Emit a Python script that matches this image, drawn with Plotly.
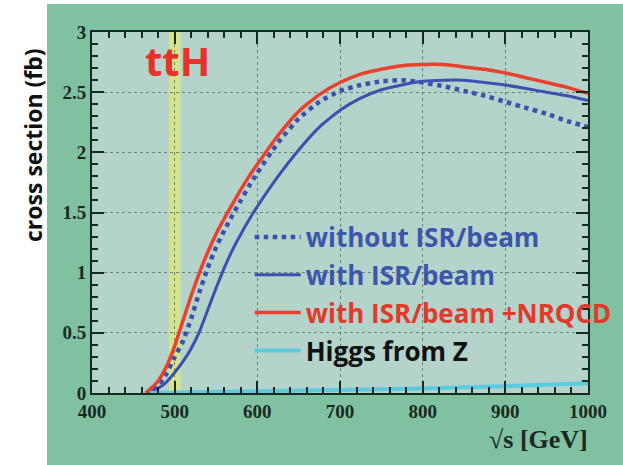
import plotly.graph_objects as go

# ---- data ----
sqrt_s = [465, 470, 480, 490, 500, 510, 520, 530, 540, 550, 560, 570, 580, 590, 600,
          625, 650, 675, 700, 725, 750, 775, 800, 825, 850, 875, 900, 925, 950, 975, 1000]

xs_no_isr = [0.0, 0.0, 0.06, 0.16, 0.30, 0.43, 0.62, 0.84, 1.04, 1.21, 1.35, 1.48, 1.60, 1.72, 1.83,
             2.08, 2.28, 2.42, 2.51, 2.56, 2.59, 2.60, 2.58, 2.55, 2.51, 2.47, 2.42, 2.37, 2.32, 2.26, 2.21]

xs_isr = [0.0, 0.01, 0.04, 0.09, 0.17, 0.26, 0.37, 0.51, 0.69, 0.87, 1.04, 1.19, 1.32, 1.44, 1.55,
          1.80, 2.02, 2.21, 2.35, 2.45, 2.52, 2.56, 2.59, 2.60, 2.60, 2.58, 2.56, 2.53, 2.50, 2.47, 2.43]

xs_nrqcd = [0.0, 0.03, 0.10, 0.22, 0.39, 0.60, 0.81, 1.00, 1.17, 1.32, 1.45, 1.57, 1.69, 1.80, 1.90,
            2.14, 2.34, 2.48, 2.58, 2.65, 2.69, 2.72, 2.73, 2.73, 2.71, 2.69, 2.66, 2.62, 2.58, 2.54, 2.49]

higgs_x = [470, 500, 600, 700, 800, 900, 1000]
higgs_z = [0.0, 0.005, 0.015, 0.025, 0.038, 0.057, 0.08]

x_ticks = [400, 500, 600, 700, 800, 900, 1000]
y_ticks = [0, 0.5, 1, 1.5, 2, 2.5, 3]

band_center = 500
band_halfwidth = 7

BLUE = "#3d50b0"
RED = "#e8412c"
CYAN = "#5ccbe0"
AXC = "#142a20"

fig = go.Figure()

fig.add_trace(go.Scatter(
    x=sqrt_s, y=xs_no_isr, mode="lines", legendgroup="a",
    line=dict(color=BLUE, width=4.5, dash="dot", shape="spline", smoothing=0.5),
    name="<span style='color:#3d55aa'>without ISR/beam</span>"))
fig.add_trace(go.Scatter(
    x=sqrt_s, y=xs_isr, mode="lines", legendgroup="b",
    line=dict(color=BLUE, width=3, shape="spline", smoothing=0.5),
    name="<span style='color:#3d55aa'>with ISR/beam</span>"))
fig.add_trace(go.Scatter(
    x=sqrt_s, y=xs_nrqcd, mode="lines", legendgroup="c",
    line=dict(color=RED, width=3.5, shape="spline", smoothing=0.5),
    name="<span style='color:#e3392a'>with ISR/beam +NRQCD</span>"))
fig.add_trace(go.Scatter(
    x=higgs_x, y=higgs_z, mode="lines", legendgroup="d",
    line=dict(color=CYAN, width=4, shape="spline", smoothing=0.5),
    name="<span style='color:#111111'>Higgs from Z</span>"))

# yellow band at 500 GeV
fig.add_shape(type="rect", xref="x", yref="paper",
              x0=band_center - band_halfwidth, x1=band_center + band_halfwidth,
              y0=0, y1=1, fillcolor="rgba(238,236,96,0.6)", line_width=0, layer="between")

# white strips outside green frame
fig.add_shape(type="rect", xref="paper", yref="paper", x0=-0.4, x1=-0.0907, y0=-0.4, y1=1.3,
              fillcolor="white", line_width=0, layer="below")
fig.add_shape(type="rect", xref="paper", yref="paper", x0=-0.4, x1=1.3, y0=1.0776, y1=1.3,
              fillcolor="white", line_width=0, layer="below")

tickfont = dict(family="Liberation Serif", size=19, color="#1a2a22", weight="bold")

fig.update_xaxes(
    range=[400, 1000], tickvals=x_ticks, ticks="inside", ticklen=12, tickwidth=2,
    tickcolor=AXC, showline=True, linecolor=AXC, linewidth=2, mirror="allticks",
    showgrid=True, gridcolor="rgba(70,95,85,0.7)", griddash="dot", gridwidth=1,
    zeroline=False, tickfont=tickfont,
    minor=dict(ticks="inside", dtick=20, ticklen=6, tickwidth=1.5, tickcolor=AXC, showgrid=False))
fig.update_yaxes(
    range=[0, 3], tickvals=y_ticks, ticks="inside", ticklen=12, tickwidth=2,
    tickcolor=AXC, showline=True, linecolor=AXC, linewidth=2, mirror="allticks",
    showgrid=True, gridcolor="rgba(70,95,85,0.7)", griddash="dot", gridwidth=1,
    zeroline=False, tickfont=tickfont,
    minor=dict(ticks="inside", dtick=0.1, ticklen=6, tickwidth=1.5, tickcolor=AXC, showgrid=False))

fig.add_annotation(text="ttH", xref="paper", yref="paper", x=0.173, y=0.922,
                   xanchor="center", yanchor="middle", showarrow=False,
                   font=dict(family="Open Sans", size=40, color="#e8312a", weight="bold"))
fig.add_annotation(text="cross section (fb)", xref="paper", yref="paper", x=-0.119, y=0.687,
                   xanchor="center", yanchor="middle", textangle=-90, showarrow=False,
                   font=dict(family="Open Sans", size=23, color="#111111", weight="bold"))
fig.add_annotation(text="√s [GeV]", xref="paper", yref="paper", x=1.004, y=-0.13,
                   xanchor="right", yanchor="middle", showarrow=False,
                   font=dict(family="Liberation Serif", size=26, color="#1a2a22", weight="bold"))

fig.update_layout(
    width=623, height=465,
    margin=dict(l=92, r=35, t=32, b=72, autoexpand=False),
    paper_bgcolor="#80c1a2", plot_bgcolor="#b3d3cb",
    showlegend=True,
    legend=dict(x=0.318, y=0.497, xanchor="left", yanchor="top",
                bgcolor="rgba(0,0,0,0)", borderwidth=0,
                font=dict(family="Open Sans", size=26, weight="bold"),
                traceorder="grouped", tracegroupgap=1, itemwidth=46),
)

fig.write_html("out.html")
